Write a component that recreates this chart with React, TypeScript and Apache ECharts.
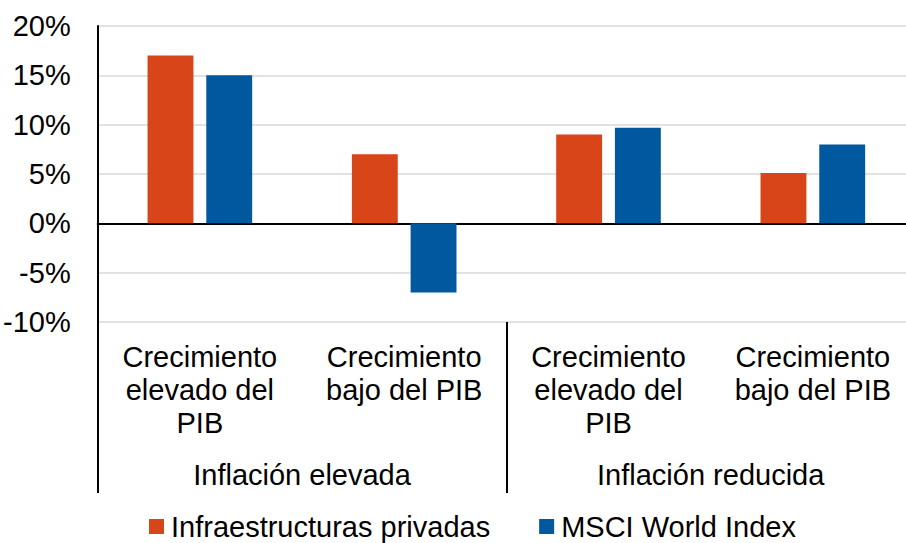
import React, { useEffect, useRef } from "react";
import * as echarts from "echarts";

const categories = [
  "Crecimiento\nelevado del\nPIB",
  "Crecimiento\nbajo del PIB",
  "Crecimiento\nelevado del\nPIB",
  "Crecimiento\nbajo del PIB",
];
const groups = ["Inflación elevada", "Inflación reducida"];
const seriesNames = ["Infraestructuras privadas", "MSCI World Index"];
const infraValues = [17, 7, 9, 5.1];
const msciValues = [15, -7, 9.7, 8];
const yTicks = { min: -10, max: 20, interval: 5 };

const FONT = "Liberation Sans, Arial, sans-serif";
const FS = 29;

export default function App() {
  const ref = useRef<HTMLDivElement>(null);
  useEffect(() => {
    if (!ref.current) return;
    const chart = echarts.init(ref.current, undefined, { renderer: "svg" });
    chart.setOption({
      animation: false,
      backgroundColor: "#ffffff",
      textStyle: { fontFamily: FONT },
      grid: { left: 97, top: 26, bottom: 221, right: 0, containLabel: false },
      legend: {
        data: seriesNames,
        left: 144,
        top: 507,
        icon: "rect",
        itemWidth: 15,
        itemHeight: 15,
        itemGap: 49,
        textStyle: {
          fontSize: FS,
          color: "#000",
          fontFamily: FONT,
          lineHeight: 29,
          padding: [0, 0, 0, 2],
        },
      },
      xAxis: [
        {
          type: "category",
          data: categories,
          position: "bottom",
          axisLine: { show: true, onZero: true, lineStyle: { color: "#000", width: 2 } },
          axisTick: { show: false },
          axisLabel: { show: false },
          splitLine: { show: false },
        },
        {
          type: "category",
          data: categories,
          position: "bottom",
          axisLine: { show: false, onZero: false },
          axisTick: { show: false },
          axisLabel: {
            show: true,
            interval: 0,
            fontSize: FS,
            lineHeight: 33.3,
            color: "#000",
            fontFamily: FONT,
            margin: 18,
            align: "center",
          },
          splitLine: { show: false },
        },
        {
          type: "category",
          data: groups,
          position: "bottom",
          axisLine: { show: false, onZero: false },
          axisTick: {
            show: true,
            length: 171,
            inside: false,
            lineStyle: { color: "#000", width: 2 },
          },
          axisLabel: {
            show: true,
            interval: 0,
            fontSize: FS,
            lineHeight: 34,
            color: "#000",
            fontFamily: FONT,
            margin: 136,
          },
          splitLine: { show: false },
        },
      ],
      yAxis: {
        type: "value",
        min: yTicks.min,
        max: yTicks.max,
        interval: yTicks.interval,
        axisLine: { show: true, lineStyle: { color: "#000", width: 2 } },
        axisTick: { show: false },
        axisLabel: {
          formatter: (v: number) => `${v}%`,
          fontSize: FS,
          color: "#000",
          fontFamily: FONT,
          margin: 27,
        },
        splitLine: { show: true, lineStyle: { color: "#d9d9d9", width: 1.5 } },
      },
      series: [
        {
          name: seriesNames[0],
          type: "bar",
          xAxisIndex: 0,
          data: infraValues,
          itemStyle: { color: "#D84519" },
          barCategoryGap: "48.8%",
          barGap: "28%",
        },
        {
          name: seriesNames[1],
          type: "bar",
          xAxisIndex: 0,
          data: msciValues,
          itemStyle: { color: "#00599F" },
          barCategoryGap: "48.8%",
          barGap: "28%",
        },
      ],
    });
    return () => chart.dispose();
  }, []);
  return (
    <div style={{ position: "fixed", left: 0, top: 0, width: 906, height: 543, overflow: "hidden" }}>
      <div ref={ref} style={{ position: "absolute", left: 0, top: 0, width: 915, height: 543 }} />
    </div>
  );
}
